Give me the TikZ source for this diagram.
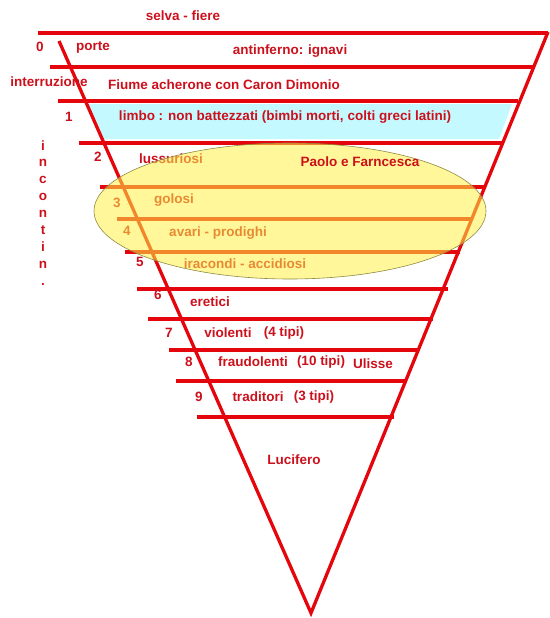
\documentclass[tikz,border=0pt]{standalone}
\usepackage{fontspec}
\setmainfont{Liberation Sans}
\usepackage{xcolor}
\usetikzlibrary{math}
\definecolor{myred}{RGB}{228, 6, 12}
\definecolor{txtred}{RGB}{204, 16, 28}
\definecolor{mycyan}{RGB}{196, 250, 255}
\definecolor{myyellow}{RGB}{255, 240, 70}

\begin{document}
\begin{tikzpicture}[x=1pt, y=-1pt,
  lbl/.style={text=txtred, font=\fontsize{13.5}{16}\selectfont\bfseries, inner sep=0pt},
  ring/.style={myred, line width=4pt}]
\tikzmath{
\Lx=59; \Ly=41;
\Rx=548; \Ry=32;
\Ax=311; \Ay=613;
}
\useasboundingbox (0,0) rectangle (549,618);

\coordinate (L) at (\Lx,\Ly);
\coordinate (R) at (\Rx,\Ry);
\coordinate (A) at (\Ax,\Ay);

\fill[mycyan] (88,104) -- (512,104) -- (499,139) -- (103,139) -- cycle;

\foreach \y/\xl/\xr in {33/38/548, 67/50/533, 101/58/518, 143/79/503, 187/100/485,
  219/117/472, 252/125/460, 289/137/448, 319/148/433, 350/169/419, 381/176/407, 417/197/394}
  \draw[ring] (\xl,\y) -- (\xr,\y);

\draw[myred, line width=3.3pt] (L) -- (A) -- (R);

\node[lbl] (selva) at (183,16) {selva - fiere};
\node[lbl] (n0) at (40,47) {0};
\node[lbl] (porte) at (93,47) {porte};
\node[lbl] (antinf) at (290,51) {antinferno: ignavi};
\node[lbl] (interr) at (49,82) {interruzione};
\node[lbl] (fiume) at (224,85) {Fiume acherone con Caron Dimonio};
\node[lbl] (n1) at (69,117) {1};
\node[lbl] (limbo) at (285,117) {limbo : non battezzati (bimbi morti, colti greci latini)};
\node[lbl] (n2) at (98,157) {2};
\node[lbl] (luss) at (171,159) {lussuriosi};
\node[lbl] (n3) at (117,203) {3};
\node[lbl] (golosi) at (174,200) {golosi};
\node[lbl] (n4) at (127,231) {4};
\node[lbl] (avari) at (218,233) {avari - prodighi};
\node[lbl] (n5) at (140,262) {5};
\node[lbl] (iracondi) at (245,264) {iracondi - accidiosi};

\foreach \c [count=\i from 0] in {i,n,c,o,n,t,i,n,.}
  \node[lbl, anchor=base] (inc\i) at (43,{150+16.9*\i}) {\c};

\draw[draw=olive!55!gray, line width=0.6pt, fill=myyellow, fill opacity=0.55]
  (290,211) ellipse (196pt and 68pt);

\node[lbl] (paolo) at (360,162) {Paolo e Farncesca};
\node[lbl] (n6) at (158,295) {6};
\node[lbl] (eretici) at (210,302) {eretici};
\node[lbl] (n7) at (169,333) {7};
\node[lbl] (violenti) at (228,333) {violenti};
\node[lbl] (tipi4) at (284,333) {(4 tipi)};
\node[lbl] (n8) at (189,362) {8};
\node[lbl] (fraud) at (253,362) {fraudolenti};
\node[lbl] (tipi10) at (321,362) {(10 tipi)};
\node[lbl] (ulisse) at (373,364) {Ulisse};
\node[lbl] (n9) at (199,397) {9};
\node[lbl] (traditori) at (258,397) {traditori};
\node[lbl] (tipi3) at (314,397) {(3 tipi)};
\node[lbl] (lucifero) at (294,460) {Lucifero};
\end{tikzpicture}
\end{document}
